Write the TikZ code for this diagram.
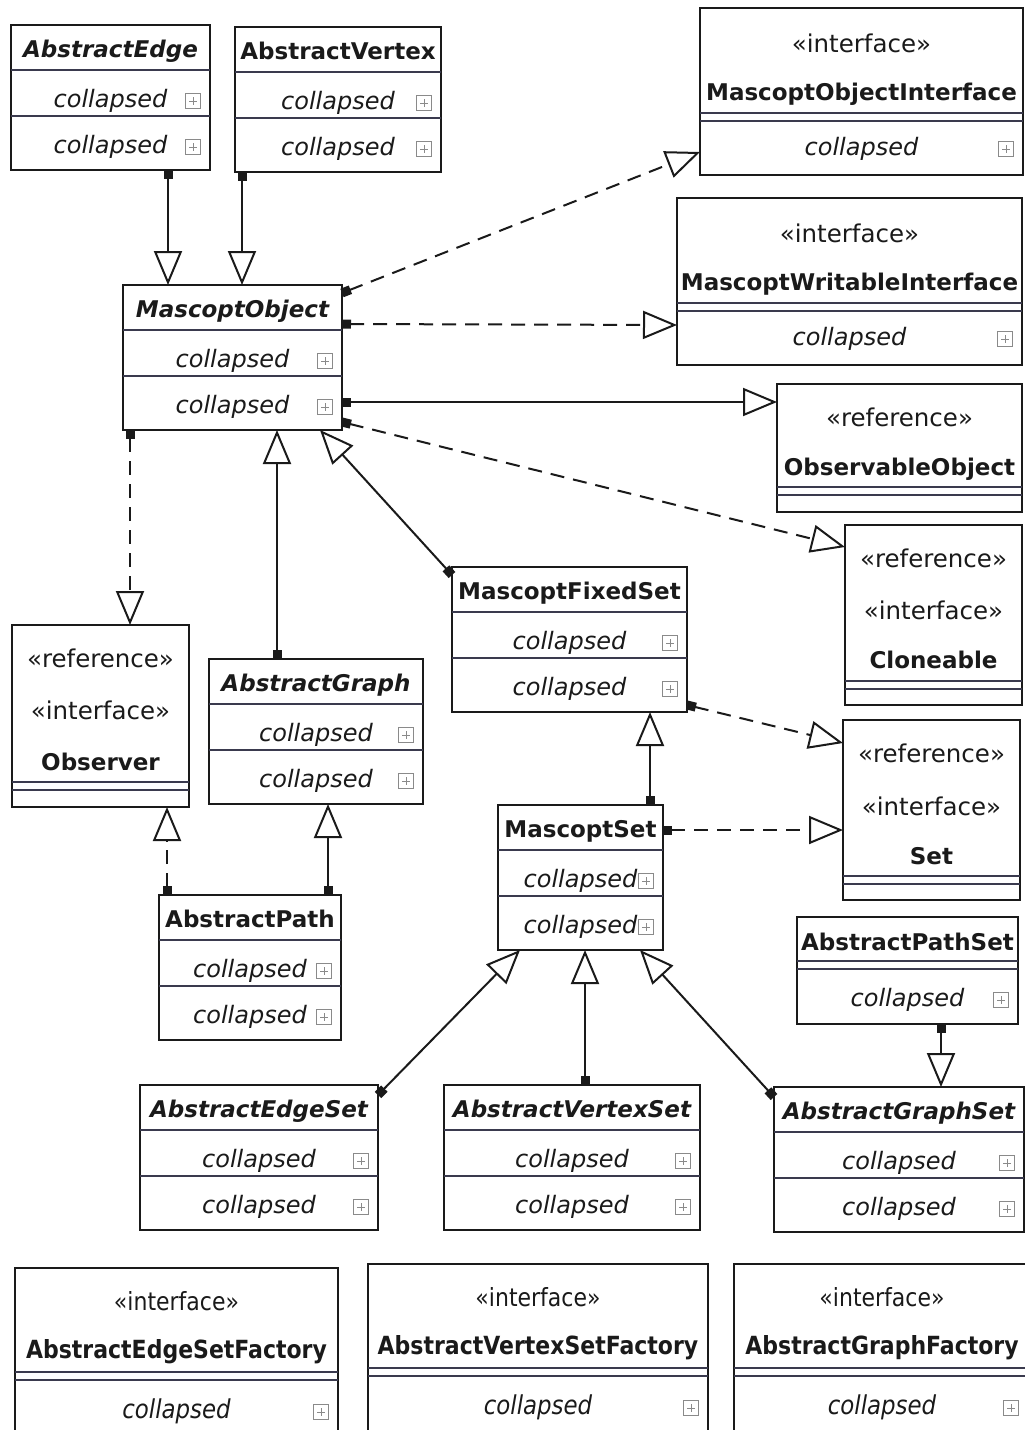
\documentclass[tikz,border=0pt]{standalone}
\usepackage{fontspec}
\setsansfont{DejaVu Sans}[BoldFont={DejaVu Sans Bold}, ItalicFont={DejaVu Sans Oblique}, BoldItalicFont={DejaVu Sans Bold Oblique}]
\newfontfamily\condsans{DejaVu Sans}[FakeStretch=0.88, BoldFont={DejaVu Sans Bold}, ItalicFont={DejaVu Sans Oblique}]
\usetikzlibrary{arrows.meta,fit}
\definecolor{umlInk}{HTML}{1A1A1A}
\definecolor{umlSep}{HTML}{3A3A4E}
\definecolor{umlPlus}{HTML}{8A8A8A}
\tikzset{
    every picture/.style={font=\sffamily},
    umlbox/.style={draw=umlInk, line width=2.4pt, fill=white, inner sep=0pt, outer sep=0pt},
    sepline/.style={draw=umlSep, line width=1.5pt},
    titletext/.style={font=\sffamily\bfseries\fontsize{23}{27}\selectfont, text=umlInk, anchor=base, inner sep=0pt},
    stereo/.style={font=\sffamily\fontsize{24.5}{28}\selectfont, text=umlInk, anchor=base, inner sep=0pt},
    rowtext/.style={font=\sffamily\itshape\fontsize{24}{28}\selectfont, text=umlInk, anchor=base, inner sep=0pt},
    condtitle/.style={titletext, font=\condsans\bfseries\fontsize{25}{29}\selectfont},
    condstereo/.style={stereo, font=\condsans\fontsize{25}{29}\selectfont},
    condrow/.style={rowtext, font=\condsans\itshape\fontsize{26}{30}\selectfont},
    plusbox/.style={draw=umlPlus, line width=0.9pt, minimum size=15pt, inner sep=0pt, fill=white,
        path picture={\draw[umlPlus, line width=1pt]
            ([yshift=-3.5pt]path picture bounding box.north) -- ([yshift=3.5pt]path picture bounding box.south)
            ([xshift=3.5pt]path picture bounding box.west) -- ([xshift=-3.5pt]path picture bounding box.east);}},
    genarrow/.style={draw=umlInk, line width=2pt, {Square[length=9pt,width=9pt]}-{Triangle[open,length=34pt,width=28pt]}},
    implarrow/.style={genarrow, dash pattern=on 14pt off 9pt}
}
% one "collapsed" compartment: name, x1, x2, baseline
\newcommand{\umlrow}[4]{%
    \node[rowtext] (#1) at ({(#2+#3)/2},{#4}) {collapsed};
    \node[plusbox] (#1-p) at ({#3-17},{#4-6}) {};
}
% class with title and two compartments: name, x1, x2, top, title
\newcommand{\umlclass}[5]{%
    \node[umlbox, fit={(#2,#4) (#3,#4+145)}] (#1) {};
    \node[titletext] (#1-t) at ({(#2+#3)/2},{#4+32}) {#5};
    \draw[sepline] (#2,{#4+45}) -- (#3,{#4+45});
    \draw[sepline] (#2,{#4+91}) -- (#3,{#4+91});
    \umlrow{#1-a}{#2}{#3}{#4+82}
    \umlrow{#1-b}{#2}{#3}{#4+128}
}
% double line under an interface title: x1, x2, y
\newcommand{\umldsep}[3]{%
    \draw[sepline] (#1,{#3}) -- (#2,{#3}) (#1,{#3+8}) -- (#2,{#3+8});
}

\begin{document}
\begin{tikzpicture}[x=1pt, y=-1pt]
\useasboundingbox[fill=white] (0,0) rectangle (1025,1430);

% classes
\umlclass{ae}{11}{210}{25}{\itshape AbstractEdge}
\umlclass{av}{235}{441}{27}{AbstractVertex}
\umlclass{mo}{123}{342}{285}{\itshape MascoptObject}
\umlclass{ag}{209}{423}{659}{\itshape AbstractGraph}
\umlclass{mfs}{452}{687}{567}{MascoptFixedSet}
\umlclass{ms}{498}{663}{805}{MascoptSet}
\umlclass{ap}{159}{341}{895}{AbstractPath}
\umlclass{aes}{140}{378}{1085}{\itshape AbstractEdgeSet}
\umlclass{avs}{444}{700}{1085}{\itshape AbstractVertexSet}
\umlclass{ags}{774}{1024}{1087}{\itshape AbstractGraphSet}

% interfaces and references
\node[umlbox, fit={(700,8) (1023,175)}] (moi) {};
\node[stereo] (moi-s) at (861.5,52) {«interface»};
\node[titletext] (moi-t) at (861.5,100) {MascoptObjectInterface};
\umldsep{700}{1023}{113}
\umlrow{moi-a}{700}{1023}{155}

\node[umlbox, fit={(677,198) (1022,365)}] (mwi) {};
\node[stereo] (mwi-s) at (849.5,242) {«interface»};
\node[titletext] (mwi-t) at (849.5,290) {MascoptWritableInterface};
\umldsep{677}{1022}{303}
\umlrow{mwi-a}{677}{1022}{345}

\node[umlbox, fit={(777,384) (1022,512)}] (oo) {};
\node[stereo] (oo-s) at (899.5,426) {«reference»};
\node[titletext] (oo-t) at (899.5,475) {ObservableObject};
\umldsep{777}{1022}{487}

\node[umlbox, fit={(845,525) (1022,705)}] (cl) {};
\node[stereo] (cl-s1) at (933.5,567) {«reference»};
\node[stereo] (cl-s2) at (933.5,619) {«interface»};
\node[titletext] (cl-t) at (933.5,668) {Cloneable};
\umldsep{845}{1022}{681}

\node[umlbox, fit={(12,625) (189,807)}] (ob) {};
\node[stereo] (ob-s1) at (100.5,667) {«reference»};
\node[stereo] (ob-s2) at (100.5,719) {«interface»};
\node[titletext] (ob-t) at (100.5,770) {Observer};
\umldsep{12}{189}{782}

\node[umlbox, fit={(843,720) (1020,900)}] (set) {};
\node[stereo] (set-s1) at (931.5,762) {«reference»};
\node[stereo] (set-s2) at (931.5,815) {«interface»};
\node[titletext] (set-t) at (931.5,864) {Set};
\umldsep{843}{1020}{876}

\node[umlbox, fit={(797,917) (1018,1024)}] (aps) {};
\node[titletext] (aps-t) at (907.5,950) {AbstractPathSet};
\umldsep{797}{1018}{961}
\umlrow{aps-a}{797}{1018}{1006}

% factories
\node[umlbox, fit={(15,1268) (338,1440)}] (fes) {};
\node[condstereo] (fes-s) at (176.5,1310) {«interface»};
\node[condtitle] (fes-t) at (176.5,1358) {AbstractEdgeSetFactory};
\umldsep{15}{338}{1372}
\node[condrow] (fes-a) at (176.5,1418) {collapsed};
\node[plusbox] (fes-p) at (321,1412) {};

\node[umlbox, fit={(368,1264) (708,1440)}] (fvs) {};
\node[condstereo] (fvs-s) at (538,1306) {«interface»};
\node[condtitle] (fvs-t) at (538,1354) {AbstractVertexSetFactory};
\umldsep{368}{708}{1368}
\node[condrow] (fvs-a) at (538,1414) {collapsed};
\node[plusbox] (fvs-p) at (691,1408) {};

\node[umlbox, fit={(734,1264) (1030,1440)}] (fg) {};
\node[condstereo] (fg-s) at (882,1306) {«interface»};
\node[condtitle] (fg-t) at (882,1354) {AbstractGraphFactory};
\umldsep{734}{1030}{1368}
\node[condrow] (fg-a) at (882,1414) {collapsed};
\node[plusbox] (fg-p) at (1011,1408) {};

% generalisations and realisations
\draw[genarrow] ([xshift=157pt]ae.south west) -- ([xshift=45pt]mo.north west);
\draw[genarrow] ([xshift=7pt]av.south west) -- ([xshift=119pt]mo.north west);
\draw[implarrow] ([yshift=-8pt]mo.north east) -- ([yshift=23pt]moi.south west);
\draw[implarrow] ([yshift=-39pt]mo.north east) -- ([yshift=40pt]mwi.south west);
\draw[genarrow] ([yshift=28pt]mo.south east) -- ([yshift=-18pt]oo.north west);
\draw[implarrow] ([yshift=8pt]mo.south east) -- ([yshift=-22pt]cl.north west);
\draw[implarrow] ([xshift=7pt]mo.south west) -- ([xshift=118pt]ob.north west);
\draw[genarrow] ([xshift=68pt]ag.north west) -- ([xshift=154pt]mo.south west);
\draw[genarrow] ([yshift=-8pt]mfs.north west) -- ([xshift=197pt]mo.south west);
\draw[implarrow] ([yshift=7pt]mfs.south east) -- ([yshift=-23pt]set.north west);
\draw[genarrow] ([xshift=152pt]ms.north west) -- ([xshift=198pt]mfs.south west);
\draw[implarrow] ([yshift=-25pt]ms.north east) -- ([yshift=-110pt]set.north west);
\draw[implarrow] ([xshift=8pt]ap.north west) -- ([xshift=155pt]ob.south west);
\draw[genarrow] ([xshift=169pt]ap.north west) -- ([xshift=119pt]ag.south west);
\draw[genarrow] ([yshift=-10pt]aes.north east) -- ([xshift=22pt]ms.south west);
\draw[genarrow] ([xshift=141pt]avs.north west) -- ([xshift=87pt]ms.south west);
\draw[genarrow] ([yshift=-10pt]ags.north west) -- ([xshift=142pt]ms.south west);
\draw[genarrow] ([xshift=144pt]aps.south west) -- ([xshift=167pt]ags.north west);
\end{tikzpicture}
\end{document}
